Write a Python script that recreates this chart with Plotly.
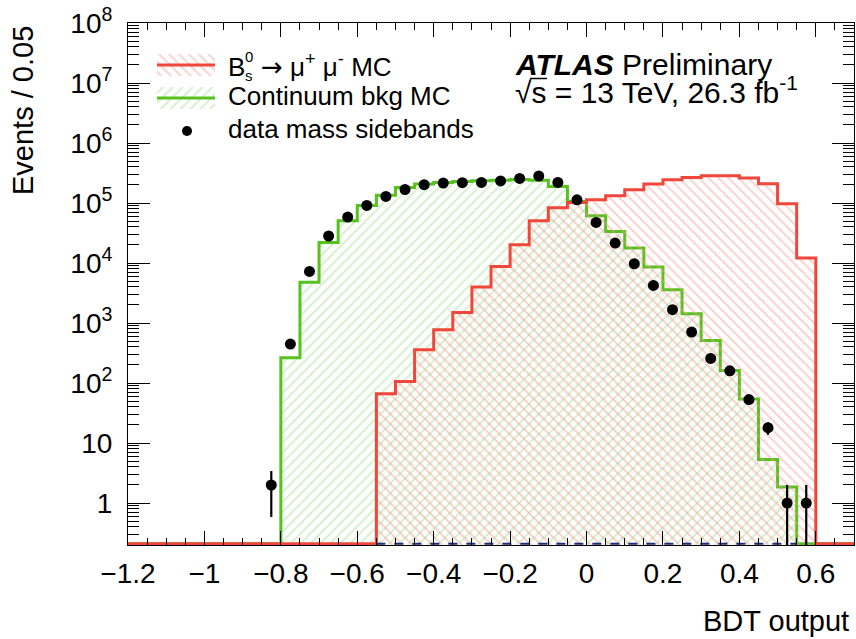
import numpy as np
import plotly.graph_objects as go

# ---------------- data ----------------
BIN_W = 0.05
X_MIN, X_MAX = -1.2, 0.7

# Continuum background MC, bins starting at -0.80
bkg_lo = -0.80
bkg_counts = [265, 4800, 22000, 50700, 91000, 135000, 182000, 208000, 220000, 228000,
              236000, 240000, 246000, 240000, 189000, 106000, 61400, 33600, 17800, 8580,
              3590, 1430, 513, 162, 54, 5.3, 1.85]

# Bs -> mu mu signal MC, bins starting at -0.55
sig_lo = -0.55
sig_counts = [66, 106, 359, 773, 1500, 3980, 8780, 20200, 50700, 83500, 102000, 113000,
              132000, 167000, 207000, 245000, 267000, 285000, 285000, 261000, 210000,
              97300, 12100]

# data mass sidebands, bins starting at -0.85
data_lo = -0.85
data_counts = [2, 447, 7250, 28200, 58400, 91000, 129000, 168000, 202000, 215000,
               218000, 220000, 233000, 257000, 282000, 220000, 113000, 47500, 21500,
               9730, 4230, 1670, 708, 257, 160, 53, 18, 1, 1]

# extra (empty) histogram drawn dashed along the floor
aux_lo = -0.55
aux_counts = [0] * 22

x_tick_vals = [-1.2, -1.0, -0.8, -0.6, -0.4, -0.2, 0.0, 0.2, 0.4, 0.6]
x_tick_text = ["\u22121.2", "\u22121", "\u22120.8", "\u22120.6", "\u22120.4",
               "\u22120.2", "0", "0.2", "0.4", "0.6"]
y_tick_vals = [1, 10, 1e2, 1e3, 1e4, 1e5, 1e6, 1e7, 1e8]
y_tick_text = ["1", "10", "10<sup>2</sup>", "10<sup>3</sup>", "10<sup>4</sup>",
               "10<sup>5</sup>", "10<sup>6</sup>", "10<sup>7</sup>", "10<sup>8</sup>"]
Y_MIN, Y_MAX = 0.2, 1e8
FLOOR = 0.21  # empty bins are drawn on the axis floor (ROOT log style)

# ---------------- helpers ----------------
n_full = int(round((X_MAX - X_MIN) / BIN_W))
edges = X_MIN + BIN_W * np.arange(n_full + 1)


def full_hist(lo, counts):
    h = np.zeros(n_full)
    i0 = int(round((lo - X_MIN) / BIN_W))
    h[i0:i0 + len(counts)] = counts
    return h


def step_xy(h):
    y = np.where(h > 0, h, FLOOR)
    return edges, np.append(y, y[-1])


RED = "#f0473a"
GREEN = "#56c21d"
RED_H = "#f29c94"
GREEN_H = "#a3e08f"
FONT = "Liberation Sans, Arial, Helvetica, sans-serif"

W, H = 856, 639
PX_L, PX_R, PX_T, PX_B = 128, 854, 23, 545   # plot area in page pixels

fig = go.Figure()

bx, by = step_xy(full_hist(bkg_lo, bkg_counts))
fig.add_trace(go.Scatter(x=bx, y=by, mode="lines", line=dict(color=GREEN, width=3, shape="hv"),
                         fill="tozeroy", fillcolor="rgba(0,0,0,0)",
                         fillpattern=dict(shape="/", fgcolor=GREEN_H, size=7, solidity=0.27),
                         hoverinfo="skip"))

sx, sy = step_xy(full_hist(sig_lo, sig_counts))
fig.add_trace(go.Scatter(x=sx, y=sy, mode="lines", line=dict(color=RED, width=3, shape="hv"),
                         fill="tozeroy", fillcolor="rgba(0,0,0,0)",
                         fillpattern=dict(shape="\\", fgcolor=RED_H, size=7, solidity=0.27),
                         hoverinfo="skip"))

aux_edges = aux_lo + BIN_W * np.arange(len(aux_counts) + 1)
aux_y = [FLOOR if v <= 0 else v for v in aux_counts]
fig.add_trace(go.Scatter(x=aux_edges, y=aux_y + [aux_y[-1]], mode="lines",
                         line=dict(color="#1b2a7a", width=2, dash="dash", shape="hv"),
                         hoverinfo="skip"))

d = np.array(data_counts, dtype=float)
dx = data_lo + BIN_W * (np.arange(len(d)) + 0.5)
err = np.sqrt(d)
fig.add_trace(go.Scatter(x=dx, y=d, mode="markers",
                         marker=dict(color="black", size=11),
                         error_y=dict(type="data", array=err, arrayminus=err,
                                      width=0, thickness=2.2, color="black"),
                         hoverinfo="skip"))

# ---------------- legend (drawn in a pixel-coordinate overlay) ----------------
L = dict(xaxis="x2", yaxis="y2", hoverinfo="skip", showlegend=False)
fig.add_trace(go.Scatter(x=[157, 215, 215, 157, 157], y=[54, 54, 76, 76, 54], mode="lines",
                         line=dict(width=0), fill="toself", fillcolor="rgba(0,0,0,0)",
                         fillpattern=dict(shape="\\", fgcolor=RED_H, size=7, solidity=0.27), **L))
fig.add_trace(go.Scatter(x=[157, 215], y=[65, 65], mode="lines", line=dict(color=RED, width=3), **L))
fig.add_trace(go.Scatter(x=[157, 215, 215, 157, 157], y=[87, 87, 109, 109, 87], mode="lines",
                         line=dict(width=0), fill="toself", fillcolor="rgba(0,0,0,0)",
                         fillpattern=dict(shape="/", fgcolor=GREEN_H, size=7, solidity=0.27), **L))
fig.add_trace(go.Scatter(x=[157, 215], y=[98, 98], mode="lines", line=dict(color=GREEN, width=3), **L))
fig.add_trace(go.Scatter(x=[187], y=[131], mode="markers", marker=dict(color="black", size=10), **L))

ann = []


def txt(x, y, s, size, xanchor="left", yanchor="middle", angle=0):
    ann.append(dict(x=x, y=y, xref="x2", yref="y2", text=s, showarrow=False,
                    xanchor=xanchor, yanchor=yanchor, textangle=angle, borderpad=0,
                    font=dict(family=FONT, size=size, color="black")))


def ptxt(px, py, s, size, xanchor="left", yanchor="middle", angle=0):
    # annotation placed outside the plot area, given in page pixels
    ann.append(dict(x=(px - PX_L) / (PX_R - PX_L), y=(PX_B - py) / (PX_B - PX_T),
                    xref="paper", yref="paper", text=s, showarrow=False,
                    xanchor=xanchor, yanchor=yanchor, textangle=angle, borderpad=0,
                    font=dict(family=FONT, size=size, color="black")))


ARROW = "<span style='font-family:DejaVu Sans'>\u2192</span>"
txt(227, 67, "B", 26)
txt(244, 56, "0", 15)
txt(244, 75, "s", 15)
txt(260, 65, ARROW + " \u03bc<sup>+</sup> \u03bc<sup>-</sup> MC", 26)
txt(227, 96, "Continuum bkg MC", 26)
txt(227, 129, "data mass sidebands", 26)
txt(514, 64, "<b><i>ATLAS</i></b> Preliminary", 30)
txt(514, 90, "\u221as = 13 TeV, 26.3 fb<sup>-1</sup>", 30)
ptxt(23, 111, "Events / 0.05", 29, xanchor="center", yanchor="middle", angle=-90)
ptxt(850, 638, "BDT output", 29, xanchor="right", yanchor="bottom")

fig.update_layout(
    width=W, height=H,
    margin=dict(l=PX_L, r=W - PX_R, t=PX_T, b=H - PX_B, pad=0),
    paper_bgcolor="white", plot_bgcolor="white",
    showlegend=False,
    font=dict(family=FONT, size=28, color="black"),
    annotations=ann,
    shapes=[dict(type="line", xref="x2", yref="y2", x0=530, x1=547, y0=78.5, y1=78.5,
                 line=dict(color="black", width=1.5))],
    xaxis=dict(range=[X_MIN, X_MAX], tickmode="array", tickvals=x_tick_vals, ticktext=x_tick_text,
               ticks="inside", ticklen=14, tickwidth=1, tickcolor="black",
               minor=dict(tickmode="linear", tick0=X_MIN, dtick=BIN_W, ticks="inside",
                          ticklen=7, tickwidth=1, tickcolor="black", showgrid=False),
               showline=True, linecolor="black", linewidth=1, mirror="ticks",
               showgrid=False, zeroline=False, ticklabelstandoff=3, automargin=False,
               ticklabeloverflow="allow",
               tickfont=dict(family=FONT, size=28, color="black")),
    yaxis=dict(type="log", range=[np.log10(Y_MIN), np.log10(Y_MAX)],
               tickmode="array", tickvals=y_tick_vals, ticktext=y_tick_text,
               ticks="inside", ticklen=22, tickwidth=1, tickcolor="black",
               minor=dict(dtick="D1", ticks="inside", ticklen=11, tickwidth=1,
                          tickcolor="black", showgrid=False),
               showline=True, linecolor="black", linewidth=1, mirror="ticks",
               showgrid=False, zeroline=False, ticklabelstandoff=9, automargin=False,
               ticklabeloverflow="allow",
               tickfont=dict(family=FONT, size=28, color="black")),
    xaxis2=dict(overlaying="x", range=[PX_L, PX_R], visible=False, fixedrange=True),
    yaxis2=dict(overlaying="y", range=[PX_B, PX_T], visible=False, fixedrange=True),
)

fig.write_html("out.html",
               config={"displayModeBar": False, "staticPlot": True},
               post_script="document.body.style.margin='0';"
                           "document.body.style.overflow='hidden';")
